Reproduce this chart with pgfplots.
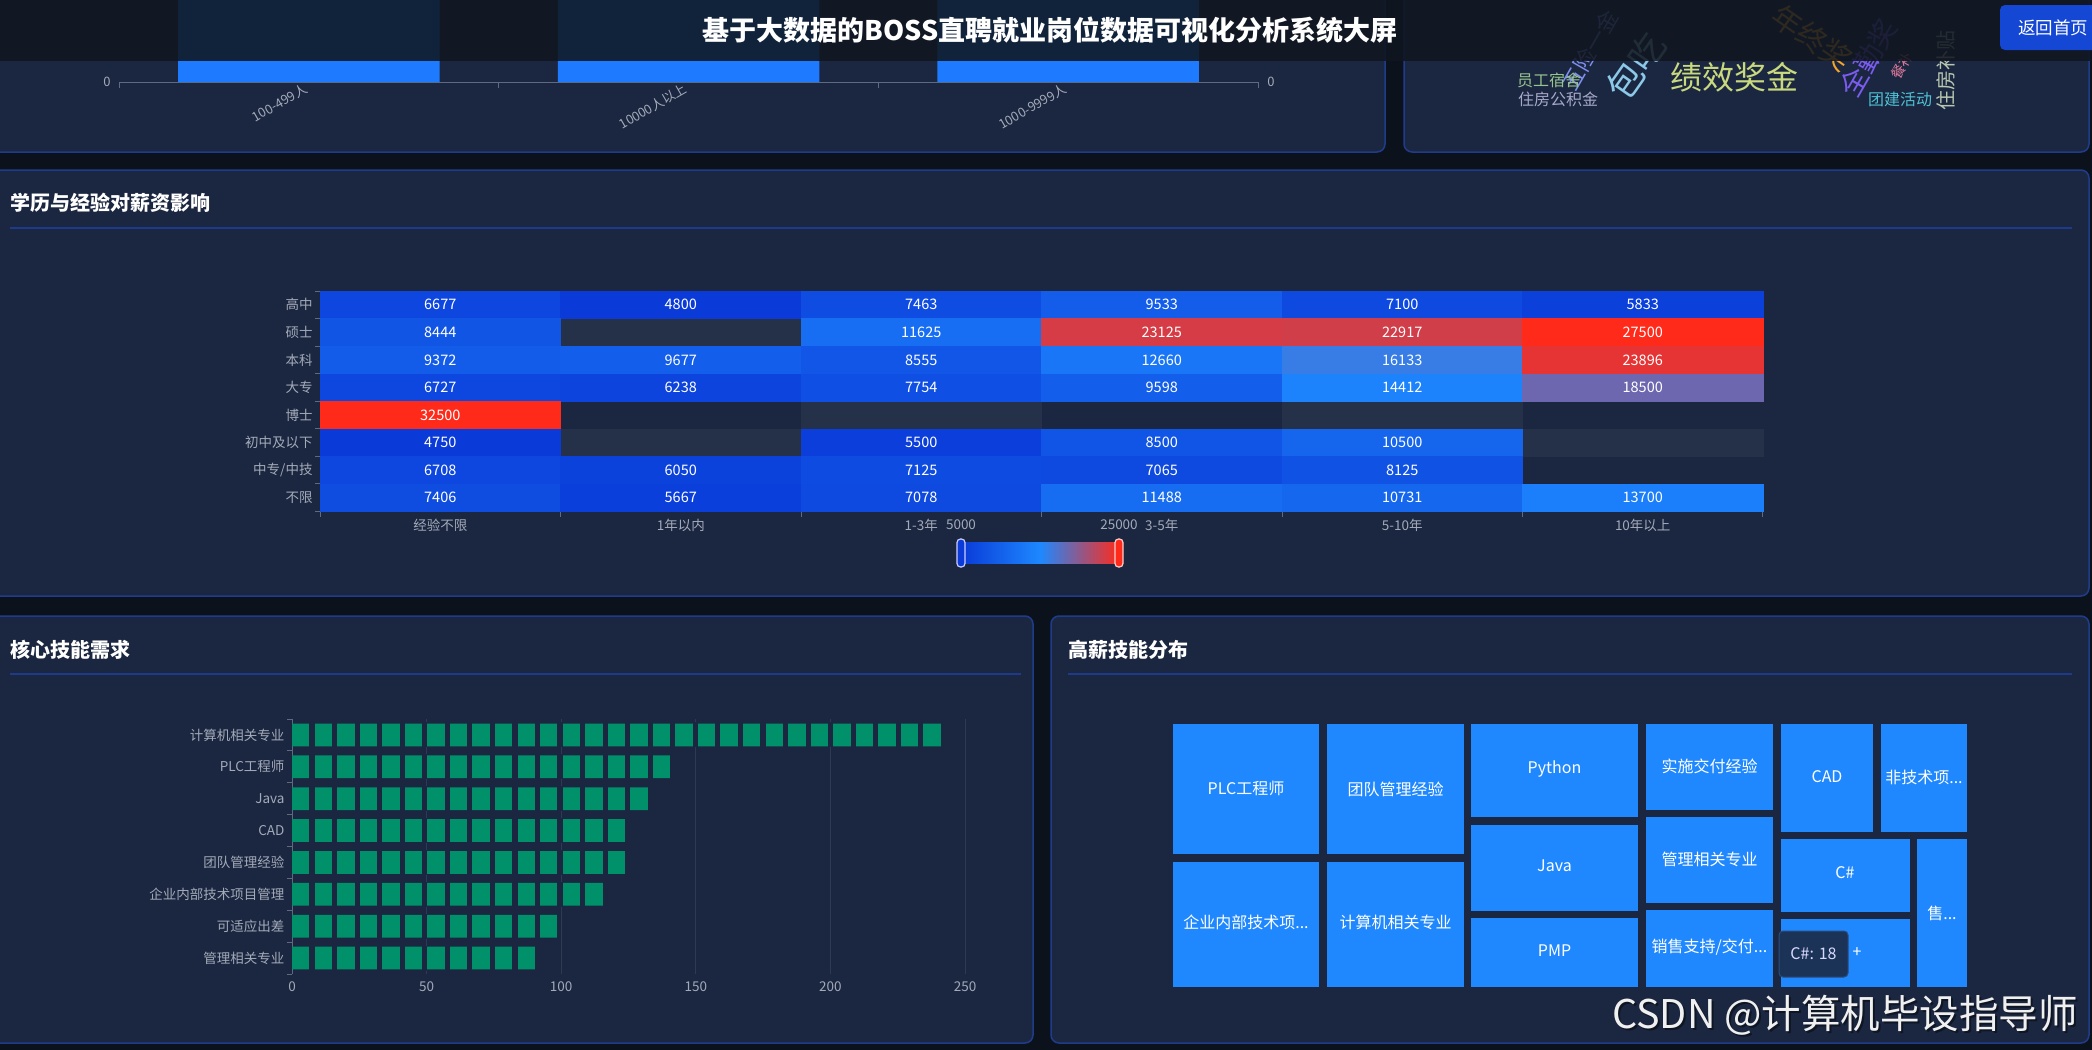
\documentclass[border=0pt]{standalone}
\usepackage{pgfplots}
\pgfplotsset{compat=1.18}
\usepackage{pgfplotstable}
\usepackage{fontspec}
\setmainfont{Noto Sans CJK SC}
\setsansfont{Noto Sans CJK SC}
\newcommand\fs[1]{\fontsize{#1bp}{#1bp}\selectfont}

\definecolor{outerbg}{HTML}{0C121B}
\definecolor{panelbg}{HTML}{1B2741}
\definecolor{panelborder}{HTML}{1F3C8C}
\definecolor{sepline}{HTML}{1E3A8A}
\definecolor{headerbg}{HTML}{10161F}
\definecolor{btnblue}{HTML}{1447D4}
\definecolor{axislabel}{HTML}{A3AAB8}
\definecolor{axisline}{HTML}{5E6A82}
\definecolor{gridgrey}{HTML}{2D3A52}
\definecolor{barblue}{HTML}{1E7BFF}
\definecolor{bargreen}{HTML}{00906A}
\definecolor{treeblue}{HTML}{1F88FF}
\definecolor{emptycell}{HTML}{243148}
\definecolor{tipbg}{HTML}{1C3358}
\definecolor{tipborder}{HTML}{2B4C7E}
\definecolor{hmlow}{RGB}{10,58,216}
\definecolor{hmmid}{RGB}{30,136,255}
\definecolor{hmhigh}{RGB}{255,42,26}
\definecolor{wcA}{HTML}{97C48C}
\definecolor{wcB}{HTML}{A7A9C9}
\definecolor{wcC}{HTML}{8CC8E8}
\definecolor{wcD}{HTML}{C9D97E}
\definecolor{wcE}{HTML}{F4A62A}
\definecolor{wcF}{HTML}{7B5CF0}
\definecolor{wcG}{HTML}{E07A9A}
\definecolor{wcH}{HTML}{4FC1D3}
\definecolor{wcI}{HTML}{B8C7B0}
\definecolor{wcJ}{HTML}{7F8FF0}

\pgfplotsset{/pgf/number format/assume math mode=true}

% heatmap: x = experience, y = education (7 = top row), c = colour value (clamped), lbl = value
\pgfplotstableread{
x y c lbl
0 7 6677 6677
1 7 5000 4800
2 7 7463 7463
3 7 9533 9533
4 7 7100 7100
5 7 5833 5833
0 6 8444 8444
2 6 11625 11625
3 6 23125 23125
4 6 22917 22917
5 6 25000 27500
0 5 9372 9372
1 5 9677 9677
2 5 8555 8555
3 5 12660 12660
4 5 16133 16133
5 5 23896 23896
0 4 6727 6727
1 4 6238 6238
2 4 7754 7754
3 4 9598 9598
4 4 14412 14412
5 4 18500 18500
0 3 25000 32500
0 2 5000 4750
2 2 5500 5500
3 2 8500 8500
4 2 10500 10500
0 1 6708 6708
1 1 6050 6050
2 1 7125 7125
3 1 7065 7065
4 1 8125 8125
0 0 7406 7406
1 0 5667 5667
2 0 7078 7078
3 0 11488 11488
4 0 10731 10731
5 0 13700 13700
}\heat

\pgfplotstableread{
x y
1 6
1 2
2 3
4 3
5 2
}\heatempty

% skills: rows from top to bottom
\pgfplotstableread{
y v
7 242
6 141
5 133
4 124
3 124
2 116
1 99
0 91
}\skills

\begin{document}
\begin{tikzpicture}
\useasboundingbox (0,0) rectangle (2092bp,-1050bp);
\fill[outerbg] (0,0) rectangle (2092bp,-1050bp);

\begin{scope}[x=1bp,y=-1bp]
  \foreach \a/\b/\c/\d in {-10/-20/1385/152, 1404/-20/2089/152, -10/170/2089/596, -10/616/1033/1043, 1051/616/2089/1043}{
    \filldraw[fill=panelbg, draw=panelborder, line width=1.5bp, rounded corners=8bp] (\a,\b) rectangle (\c,\d);
  }
  \draw[sepline, line width=2bp] (10,228) -- (2072,228);
  \draw[sepline, line width=2bp] (10,674) -- (1021,674);
  \draw[sepline, line width=2bp] (1068,674) -- (2072,674);
  \node[anchor=west, font=\fs{20}\bfseries, text=white, inner sep=0] at (10,203) {学历与经验对薪资影响};
  \node[anchor=west, font=\fs{20}\bfseries, text=white, inner sep=0] at (10,650) {核心技能需求};
  \node[anchor=west, font=\fs{20}\bfseries, text=white, inner sep=0] at (1068,650) {高薪技能分布};
\end{scope}

% ---------- top-left bar chart (mostly hidden under the header)
\begin{axis}[at={(688.5bp,68bp)}, anchor=center, width=1139bp, height=300bp, scale only axis,
  enlargelimits=false, xmin=-0.5, xmax=2.5, ymin=0, ymax=100,
  ybar, bar width=261.5bp,
  axis x line*=bottom, axis y line*=left,
  y axis line style={draw=none},
  x axis line style={draw=axisline, line width=1bp},
  xtick={0,1,2}, xticklabels={100-499人,10000人以上,1000-9999人},
  ytick={0},
  major tick length=0pt, tick align=outside,
  minor xtick={-0.5,0.5,1.5,2.5}, minor tick length=6bp,
  minor tick style={draw=axisline, line width=1bp},
  tick label style={font=\fs{13}, text=axislabel},
  xticklabel style={rotate=30, anchor=east},
  xticklabel shift=4bp, yticklabel shift=5bp,
  clip=false]
\addplot[fill=barblue, draw=none] coordinates {(0,100) (1,100) (2,100)};
\end{axis}

\begin{scope}[x=1bp,y=-1bp]
  \node[font=\fs{13}, text=axislabel] at (1271,82) {0};
  % word cloud
  \node[font=\fs{22}, text=wcJ, rotate=60] at (1590,50) {五险一金};
  \node[font=\fs{36}, text=wcC, rotate=55] at (1636,66) {包吃};
  \node[font=\fs{16}, text=wcA] at (1549,80) {员工宿舍};
  \node[font=\fs{16}, text=wcB] at (1558,99) {住房公积金};
  \node[font=\fs{32}, text=wcD] at (1734,77) {绩效奖金};
  \node[font=\fs{30}, text=wcE, rotate=-35] at (1812,38) {年终奖};
  \node[font=\fs{28}, text=wcF, rotate=60] at (1868,58) {全勤奖};
  \node[font=\fs{14}, text=wcG, rotate=60] at (1902,66) {餐补};
  \node[font=\fs{16}, text=wcH] at (1900,99) {团建活动};
  \node[font=\fs{20}, text=wcI, rotate=90] at (1946,70) {住房补贴};
\end{scope}

% ---------- heatmap
\begin{axis}[at={(1041.5bp,-401.25bp)}, anchor=center,
  width=1443bp, height=220.5bp, scale only axis, enlargelimits=false,
  xmin=-0.5, xmax=5.5, ymin=-0.5, ymax=7.5,
  axis x line*=bottom, axis y line*=left,
  axis line style={draw=axisline, line width=1bp},
  xtick={0,...,5}, xticklabels={经验不限,1年以内,1-3年,3-5年,5-10年,10年以上},
  ytick={0,...,7}, yticklabels={不限,中专/中技,初中及以下,博士,大专,本科,硕士,高中},
  major tick length=0pt, tick align=outside,
  minor xtick={-0.5,0.5,...,5.5}, minor ytick={-0.5,0.5,...,7.5},
  minor tick length=5bp, minor tick style={draw=axisline, line width=1bp},
  tick label style={font=\fs{13.5}, text=axislabel},
  xticklabel shift=4bp, yticklabel shift=4bp,
  colormap={heat}{rgb255=(10,58,216) rgb255=(30,136,255) rgb255=(255,42,26)},
  point meta min=5000, point meta max=25000,
  clip=false]
\addplot[only marks, mark=square*, mark size=13.78bp,
  mark options={xscale=8.727, fill=emptycell, draw=emptycell}]
  table[x=x, y=y] {\heatempty};
\addplot[scatter, only marks, mark=square*, mark size=13.78bp,
  scatter/use mapped color={draw=mapped color, fill=mapped color},
  mark options={xscale=8.727, line width=0.3bp}, point meta=explicit]
  table[x=x, y=y, meta=c] {\heat};
\addplot[only marks, mark=none, point meta=explicit symbolic, nodes near coords,
  every node near coord/.append style={anchor=center, text=white, font=\fs{14.5}}]
  table[x=x, y=y, meta=lbl] {\heat};
\end{axis}

% visual map
\begin{scope}[x=1bp,y=-1bp]
  \shade[left color=hmlow, right color=hmhigh, middle color=hmmid] (961,542) rectangle (1119,563);
  \filldraw[fill=hmlow, draw=white!80!blue, line width=1.2bp, rounded corners=3.5bp] (957,539) rectangle (965,567);
  \filldraw[fill=hmhigh, draw=white!80!red, line width=1.2bp, rounded corners=3.5bp] (1115,539) rectangle (1123,567);
  \node[font=\fs{13.5}, text=axislabel] at (961,525) {5000};
  \node[font=\fs{13.5}, text=axislabel] at (1119,525) {25000};
\end{scope}

% ---------- core skills pictorial bars
\begin{axis}[at={(628.5bp,-846.5bp)}, anchor=center,
  width=673bp, height=255bp, scale only axis, enlargelimits=false,
  xmin=0, xmax=250, ymin=-0.5, ymax=7.5,
  xbar, bar width=22.7bp,
  axis x line*=bottom, axis y line*=left,
  x axis line style={draw=none}, y axis line style={draw=axisline, line width=1bp},
  xtick={0,50,...,250}, xmajorgrids, grid style={draw=gridgrey, line width=1bp},
  ytick={0,...,7}, yticklabels={管理相关专业,可适应出差,企业内部技术项目管理,团队管理经验,CAD,Java,PLC工程师,计算机相关专业},
  major tick length=0pt, tick align=outside,
  minor ytick={-0.5,0.5,...,7.5}, minor tick length=5bp,
  minor tick style={draw=axisline, line width=1bp},
  tick label style={font=\fs{13.5}, text=axislabel},
  xticklabel shift=4bp, yticklabel shift=4bp,
  clip=false]
\addplot[fill=bargreen, draw=none] table[x=v, y=y] {\skills};
\end{axis}

% cut the bars into repeated blocks
\begin{scope}[x=1bp,y=-1bp]
\foreach \r in {0,...,7}{
  \pgfplotstablegetelem{\r}{v}\of\skills
  \pgfmathsetmacro\xend{292+\pgfplotsretval*2.692}
  \pgfmathsetmacro\yc{719+(\r+0.5)*31.875}
  \foreach \k in {0,...,29}{
    \pgfmathsetmacro\gs{292+\k*22.55+17.4}
    \pgfmathsetmacro\gend{min(292+(\k+1)*22.55,\xend+1)}
    \ifdim\gs pt<\xend pt
      \fill[panelbg] (\gs,\yc-12.5) rectangle (\gend,\yc+12.5);
    \fi
  }
}
\end{scope}

% ---------- treemap
\begin{axis}[at={(1570bp,-855.5bp)}, anchor=center, width=820bp, height=279bp, scale only axis,
  enlargelimits=false, xmin=1160, xmax=1980, ymin=-995, ymax=-716, hide axis, clip=false]
\addplot[fill=treeblue, draw=none] coordinates {(1173,-724) (1319,-724) (1319,-854) (1173,-854)} -- cycle;
\addplot[fill=treeblue, draw=none] coordinates {(1327,-724) (1464,-724) (1464,-854) (1327,-854)} -- cycle;
\addplot[fill=treeblue, draw=none] coordinates {(1173,-862) (1319,-862) (1319,-987) (1173,-987)} -- cycle;
\addplot[fill=treeblue, draw=none] coordinates {(1327,-862) (1464,-862) (1464,-987) (1327,-987)} -- cycle;
\addplot[fill=treeblue, draw=none] coordinates {(1471,-724) (1638,-724) (1638,-817) (1471,-817)} -- cycle;
\addplot[fill=treeblue, draw=none] coordinates {(1471,-825) (1638,-825) (1638,-911) (1471,-911)} -- cycle;
\addplot[fill=treeblue, draw=none] coordinates {(1471,-918) (1638,-918) (1638,-987) (1471,-987)} -- cycle;
\addplot[fill=treeblue, draw=none] coordinates {(1646,-724) (1773,-724) (1773,-810) (1646,-810)} -- cycle;
\addplot[fill=treeblue, draw=none] coordinates {(1646,-817) (1773,-817) (1773,-903) (1646,-903)} -- cycle;
\addplot[fill=treeblue, draw=none] coordinates {(1646,-910) (1773,-910) (1773,-987) (1646,-987)} -- cycle;
\addplot[fill=treeblue, draw=none] coordinates {(1781,-724) (1873,-724) (1873,-832) (1781,-832)} -- cycle;
\addplot[fill=treeblue, draw=none] coordinates {(1881,-724) (1967,-724) (1967,-832) (1881,-832)} -- cycle;
\addplot[fill=treeblue, draw=none] coordinates {(1781,-839) (1910,-839) (1910,-912) (1781,-912)} -- cycle;
\addplot[fill=treeblue, draw=none] coordinates {(1781,-919) (1910,-919) (1910,-987) (1781,-987)} -- cycle;
\addplot[fill=treeblue, draw=none] coordinates {(1917,-839) (1967,-839) (1967,-987) (1917,-987)} -- cycle;
\begin{scope}[every node/.style={font=\fs{16}, text=white}]
\node at (axis cs:1246,-788) {PLC工程师};
\node at (axis cs:1395.5,-789) {团队管理经验};
\node at (axis cs:1246,-922) {企业内部技术项...};
\node at (axis cs:1395.5,-922) {计算机相关专业};
\node at (axis cs:1554.5,-769) {Python};
\node at (axis cs:1554.5,-866) {Java};
\node at (axis cs:1554.5,-951) {PMP};
\node at (axis cs:1709.5,-766) {实施交付经验};
\node at (axis cs:1709.5,-859) {管理相关专业};
\node at (axis cs:1709.5,-947) {销售支持/交付...};
\node at (axis cs:1827,-777) {CAD};
\node at (axis cs:1924,-777) {非技术项...};
\node at (axis cs:1845,-873) {C\#};
\node at (axis cs:1942,-913) {售...};
\end{scope}
\end{axis}

\begin{scope}[x=1bp,y=-1bp]
  % tooltip
  \filldraw[fill=tipbg, draw=tipborder, line width=1bp, rounded corners=4bp] (1779,931) rectangle (1848,977);
  \node[font=\fs{16}, text=white!85!blue] at (1813.5,954) {C\#: 18};
  \node[font=\fs{16}, text=white] at (1857,953) {+};
  % header
  \fill[headerbg, opacity=0.87] (0,0) rectangle (2092,61);
  \node[font=\fs{27}\bfseries, text=white] at (1050,30) {基于大数据的BOSS直聘就业岗位数据可视化分析系统大屏};
  \fill[btnblue, rounded corners=5bp] (2000,5) rectangle (2110,50);
  \node[font=\fs{17.5}, text=white] at (2053,28) {返回首页};
  % watermark
  \node[anchor=west, inner sep=0, font=\fs{39.5}, text=black, opacity=0.45] at (1614,1017) {CSDN @计算机毕设指导师};
  \node[anchor=west, inner sep=0, font=\fs{39.5}, text=white!88!gray] at (1612,1015) {CSDN @计算机毕设指导师};
\end{scope}
\end{tikzpicture}
\end{document}
